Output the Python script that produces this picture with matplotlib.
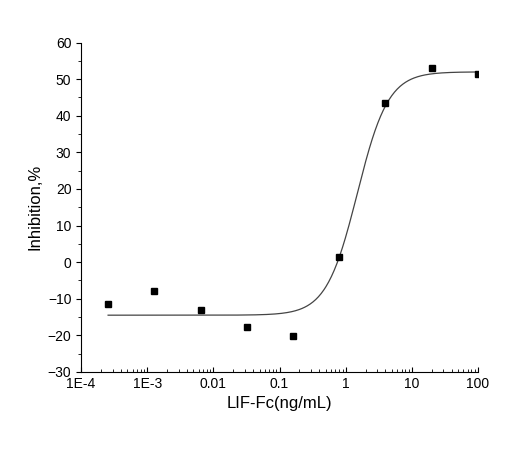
import numpy as np
import matplotlib
matplotlib.use("Agg")
import matplotlib.pyplot as plt

conc = [100, 20, 4, 0.8, 0.16, 0.032, 0.0064, 0.00128, 0.000256]
inhib = [51.5, 53.0, 43.5, 1.3, -20.3, -17.8, -13.2, -8.0, -11.5]
# fitted 4PL parameters
bottom, top, ec50, hill = -14.5, 52.0, 1.5, 1.85

plt.rcParams["font.family"] = ["Liberation Sans", "DejaVu Sans"]
fig = plt.figure(figsize=(5.2, 4.58), dpi=100)
ax = fig.add_axes([0.156, 0.188, 0.763, 0.719])
xs = np.logspace(np.log10(min(conc)), 2, 400)
ax.plot(xs, bottom + (top - bottom) / (1 + (ec50 / xs) ** hill), color="#444444", lw=0.9)
ax.plot(conc, inhib, "s", color="black", ms=4.5)
ax.set_xscale("log")
ax.set_xlim(1e-4, 100)
ax.set_ylim(-30, 60)
ax.set_xticks([1e-4, 1e-3, 0.01, 0.1, 1, 10, 100])
ax.set_xticklabels(["1E-4", "1E-3", "0.01", "0.1", "1", "10", "100"])
ax.set_yticks(range(-30, 61, 10))
ax.yaxis.set_minor_locator(matplotlib.ticker.MultipleLocator(5))
ax.spines["top"].set_visible(False)
ax.spines["right"].set_visible(False)
ax.tick_params(axis="x", which="both", direction="in")
ax.tick_params(labelsize=10)
ax.set_xlabel("LIF-Fc(ng/mL)", fontsize=12)
ax.set_ylabel("Inhibition,%", fontsize=12)
fig.savefig("out.png", dpi=100)
